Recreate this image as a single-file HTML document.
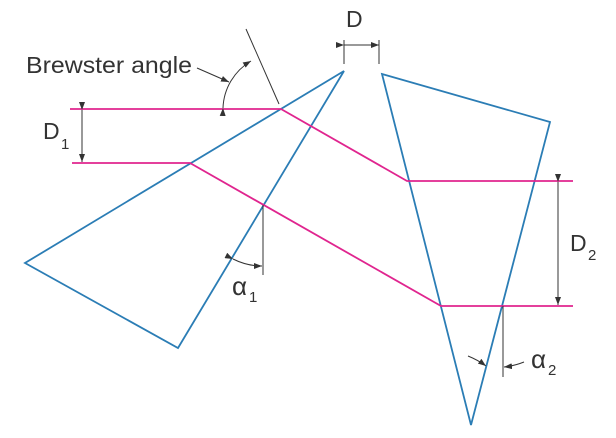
<!DOCTYPE html>
<html><head><style>body{margin:0;background:#fff}svg{display:block}text{font-family:"Liberation Sans",sans-serif;fill:#333}</style></head><body>
<svg width="616" height="438" viewBox="0 0 616 438">
<defs><marker id="a" markerWidth="8" markerHeight="6" refX="8" refY="3" orient="auto" markerUnits="userSpaceOnUse"><path d="M0,0L8,3L0,6z" fill="#333"/></marker></defs>
<g fill="none" stroke="#2b7db5" stroke-width="1.8">
<polygon points="344,71 25,263 178,348"/>
<polygon points="382,74 550,122 471,425"/>
</g>
<g fill="none" stroke="#e0258f" stroke-width="1.8">
<polyline points="70,109 281,109 407,181 573,181"/>
<polyline points="72,163 190,163 441,306 573,306"/>
</g>
<g fill="none" stroke="#333" stroke-width="1">
<line x1="279" y1="104" x2="246" y2="29"/>
<path d="M223,108 A57,57 0 0 1 251,61" marker-start="url(#a)" marker-end="url(#a)"/>
<line x1="197" y1="68" x2="229" y2="82" marker-end="url(#a)"/>
<line x1="344" y1="40" x2="344" y2="64"/><line x1="379" y1="40" x2="379" y2="64"/>
<line x1="344" y1="45" x2="379" y2="45" marker-start="url(#a)" marker-end="url(#a)"/>
<line x1="82" y1="110" x2="82" y2="162" marker-start="url(#a)" marker-end="url(#a)"/>
<line x1="558" y1="182" x2="558" y2="305" marker-start="url(#a)" marker-end="url(#a)"/>
<line x1="263" y1="205" x2="263" y2="275"/>
<path d="M233,259 Q247,266 262,266" marker-start="url(#a)" marker-end="url(#a)"/>
<line x1="503" y1="306" x2="503" y2="377"/>
<path d="M524,362 Q514,366 504,367" marker-end="url(#a)"/>
<path d="M468,356 Q478,360 486,366" marker-end="url(#a)"/>
</g>
<text x="26" y="73" font-size="23" textLength="166" lengthAdjust="spacingAndGlyphs">Brewster angle</text>
<text x="346" y="27" font-size="23">D</text>
<text x="43" y="139" font-size="23">D</text><text x="61" y="149" font-size="15">1</text>
<text x="570" y="251" font-size="23">D</text><text x="588" y="260" font-size="15">2</text>
<text x="232" y="295" font-size="26">α</text><text x="249" y="302" font-size="15">1</text>
<text x="531" y="368" font-size="26">α</text><text x="548" y="375" font-size="15">2</text>
</svg>
</body></html>
